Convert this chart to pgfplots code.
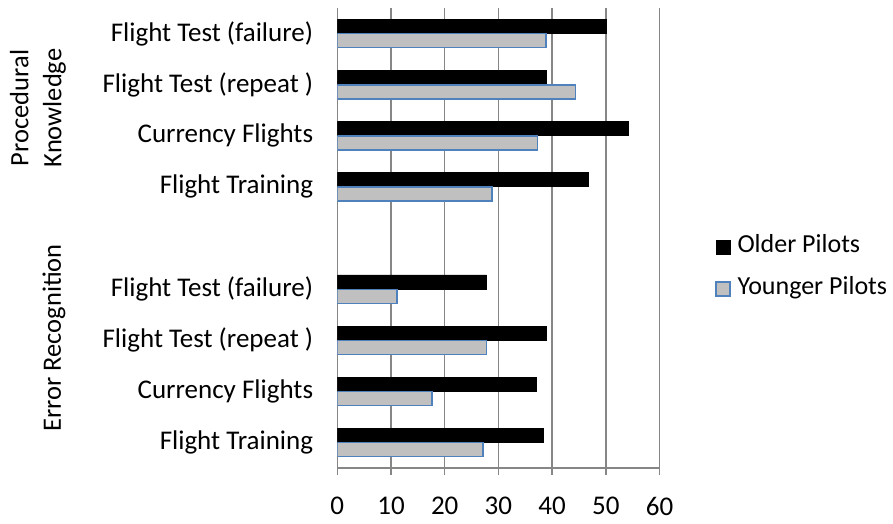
\documentclass[border=0pt]{standalone}
\usepackage{fontspec}
\setmainfont{Carlito}
\usepackage{pgfplots}
\pgfplotsset{compat=1.18}
\definecolor{olderc}{RGB}{0,0,0}
\definecolor{youngc}{RGB}{192,192,192}
\definecolor{youngb}{RGB}{79,129,189}
\definecolor{gridc}{RGB}{134,134,134}
\begin{document}
\begin{tikzpicture}[x=1pt,y=1pt]
\path[use as bounding box] (0,0) rectangle (893,524);
\begin{axis}[
  at={(337.3pt,56pt)}, anchor=south west,
  scale only axis, width=322.2pt, height=460pt,
  xbar, bar width=14pt,
  xmin=0, xmax=60, ymin=-0.5, ymax=8.5,
  xtick={0,10,...,60},
  ytick={0,1,2,3,5,6,7,8},
  yticklabels={Flight Training,Currency Flights,Flight Test (repeat ),Flight Test (failure),Flight Training,Currency Flights,Flight Test (repeat ),Flight Test (failure)},
  axis x line*=bottom, axis y line*=left,
  axis line style={gridc, line width=1.5pt, -},
  xmajorgrids, grid style={gridc, line width=1.5pt},
  xtick align=outside, major tick length=7pt,
  x tick style={gridc, line width=1.5pt},
  y tick style={draw=none},
  tick label style={font=\fontsize{27}{32}\selectfont},
  /pgf/number format/assume math mode=true,
  xticklabel style={inner sep=0pt, yshift=-22pt},
  yticklabel style={inner sep=0pt, anchor=east, xshift=-17pt},
  legend style={at={(1.172,0.435)}, anchor=west, draw=none, fill=none,
    font=\fontsize{26}{30}\selectfont, row sep=18pt, column sep=7pt, inner sep=0pt,
    nodes={inner sep=0pt, text height=18pt, text depth=6pt}},
  legend cell align=left,
  legend image code/.code={\draw[#1, bar shift=0pt, xbar=0pt] (0pt,-7pt) rectangle (14pt,7pt);},
]
\addplot[fill=olderc, draw=olderc, line width=0.6pt, bar shift=7.2pt] coordinates {
  (38.4,0) (37.0,1) (38.9,2) (27.8,3) (46.8,5) (54.2,6) (38.9,7) (50.0,8)};
\addlegendentry{Older Pilots}
\addplot[fill=youngc, draw=youngb, line width=1.4pt, bar shift=-7.2pt] coordinates {
  (27.1,0) (17.6,1) (27.8,2) (11.1,3) (28.8,5) (37.3,6) (44.4,7) (38.9,8)};
\addlegendentry{Younger Pilots}
\end{axis}
\node[rotate=90, align=center, font=\fontsize{26.5}{33}\selectfont] at (38,416) {Procedural\\Knowledge};
\node[rotate=90, font=\fontsize{26.5}{32}\selectfont] at (54,186) {Error Recognition};
\end{tikzpicture}
\end{document}
